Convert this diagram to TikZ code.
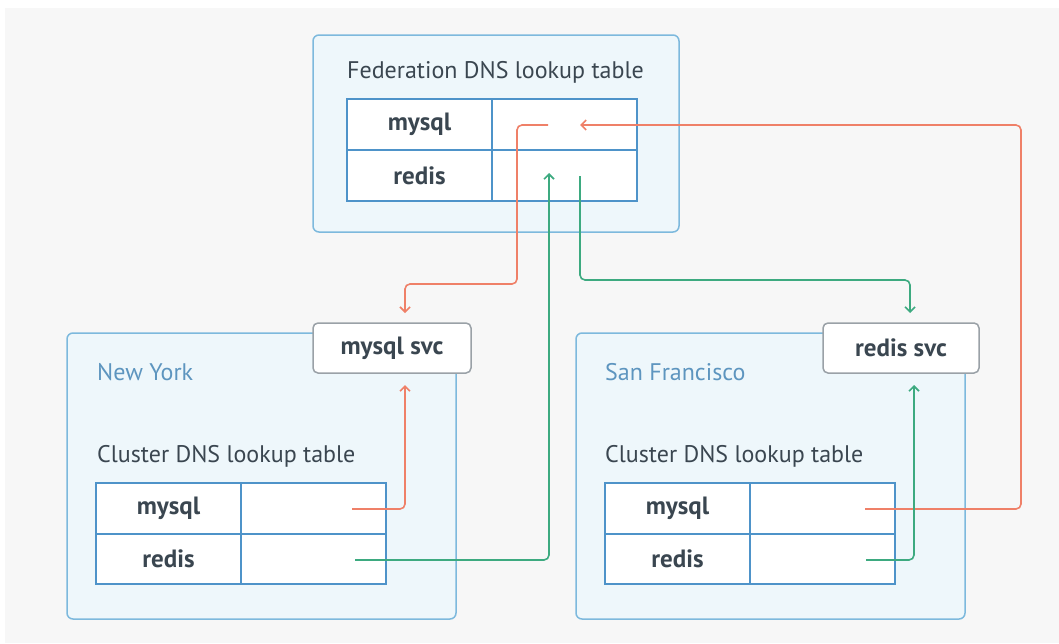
\documentclass[tikz,border=0pt]{standalone}
\usepackage{fontspec}
\setmainfont{PT Sans}
\usetikzlibrary{arrows.meta}
\definecolor{bgray}{HTML}{F7F7F7}
\definecolor{boxline}{HTML}{7DB9DD}
\definecolor{boxfill}{HTML}{EEF7FB}
\definecolor{tabline}{HTML}{4E93C9}
\definecolor{titletxt}{HTML}{3A4650}
\definecolor{citytxt}{HTML}{5D95BF}
\definecolor{svcline}{HTML}{9AA1A7}
\definecolor{redln}{HTML}{EF8068}
\definecolor{grnln}{HTML}{3DAA80}
\tikzset{
  region/.style={draw=boxline, line width=1.5pt, fill=boxfill, rounded corners=6pt, inner sep=0pt, outer sep=0pt},
  cell/.style={draw=tabline, line width=2pt, fill=white, inner sep=0pt, outer sep=0pt, minimum width=145pt, minimum height=51pt, text=titletxt, font=\fontsize{25}{30}\selectfont\bfseries},
  svcbox/.style={draw=svcline, line width=1.5pt, fill=white, rounded corners=5pt, inner sep=0pt, outer sep=0pt, minimum height=50pt, text=titletxt, font=\fontsize{25}{30}\selectfont\bfseries},
  titlelbl/.style={anchor=west, inner sep=0pt, text=titletxt, font=\fontsize{24}{29}\selectfont},
  citylbl/.style={anchor=west, inner sep=0pt, text=citytxt, font=\fontsize{24}{29}\selectfont},
  redarrow/.style={draw=redln, line width=1.6pt, rounded corners=5pt, -{Straight Barb[length=5pt,width=10pt]}},
  grnarrow/.style={draw=grnln, line width=1.6pt, rounded corners=5pt, -{Straight Barb[length=5pt,width=10pt]}},
}
\begin{document}
\begin{tikzpicture}[x=1pt,y=-1pt]
\useasboundingbox (0,0) rectangle (1059,643);
\fill[white] (0,0) rectangle (1059,643);
\fill[bgray] (5,8) rectangle (1059,643);

% Federation
\node[region, minimum width=366pt, minimum height=197pt] (fed) at (496,133.5) {};
\node[titlelbl] (fedtitle) at (347,72) {Federation DNS lookup table};
\node[cell] (fedA) at (419.5,124.5) {mysql};
\node[cell] (fedAv) at (564.5,124.5) {};
\node[cell] (fedB) at (419.5,175.5) {redis};
\node[cell] (fedBv) at (564.5,175.5) {};

% New York
\node[region, minimum width=389pt, minimum height=286pt] (ny) at (261.5,476) {};
\node[citylbl] (nytitle) at (97,372) {New York};
\node[titlelbl] (nyctitle) at (97,456) {Cluster DNS lookup table};
\node[cell] (nyA) at (168.5,508.5) {mysql};
\node[cell] (nyAv) at (313.5,508.5) {};
\node[cell, minimum height=50pt] (nyB) at (168.5,559) {redis};
\node[cell, minimum height=50pt] (nyBv) at (313.5,559) {};
\node[svcbox, minimum width=158pt] (mysqlsvc) at (392,348) {mysql svc};

% San Francisco
\node[region, minimum width=389pt, minimum height=286pt] (sf) at (770.5,476) {};
\node[citylbl] (sftitle) at (605,372) {San Francisco};
\node[titlelbl] (sfctitle) at (605,456) {Cluster DNS lookup table};
\node[cell] (sfA) at (677.5,508.5) {mysql};
\node[cell] (sfAv) at (822.5,508.5) {};
\node[cell, minimum height=50pt] (sfB) at (677.5,559) {redis};
\node[cell, minimum height=50pt] (sfBv) at (822.5,559) {};
\node[svcbox, minimum width=156pt] (redissvc) at (901,348) {redis svc};

% connector end points
\coordinate (r1s) at (548,125);
\coordinate (r1e) at (405,313);
\coordinate (r2s) at (352,509);
\coordinate (r2e) at (405,385);
\coordinate (r3s) at (865,509);
\coordinate (r3e) at (580,125);
\coordinate (g1s) at (355,560);
\coordinate (g1e) at (549,173);
\coordinate (g2s) at (580,176);
\coordinate (g2e) at (910,313);
\coordinate (g3s) at (866,560);
\coordinate (g3e) at (914,385);

% connectors
\draw[redarrow] (r1s) -- (517,125) -- (517,284) -- (405,284) -- (r1e);
\draw[redarrow] (r2s) -- (405,509) -- (r2e);
\draw[redarrow] (r3s) -- (1021,509) -- (1021,125) -- (r3e);
\draw[grnarrow] (g1s) -- (549,560) -- (g1e);
\draw[grnarrow] (g2s) -- (580,280) -- (910,280) -- (g2e);
\draw[grnarrow] (g3s) -- (914,560) -- (g3e);
\end{tikzpicture}
\end{document}
